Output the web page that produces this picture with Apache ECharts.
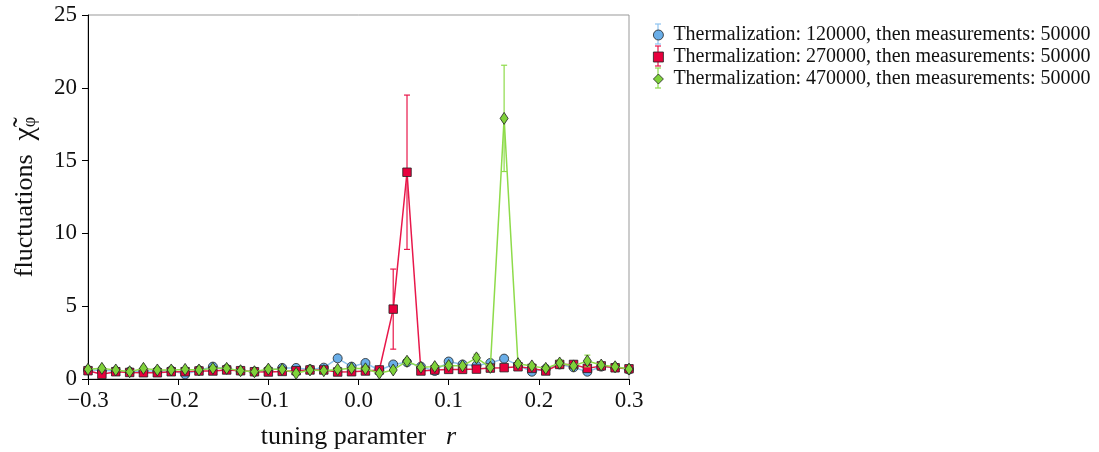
<!DOCTYPE html>
<html>
<head>
<meta charset="utf-8">
<script src="https://cdn.jsdelivr.net/npm/echarts@6/dist/echarts.min.js"></script>
<style>html,body{margin:0;padding:0;background:#fff;}#main{width:1099px;height:452px;}</style>
</head>
<body>
<div id="main"></div>
<script>
// tuning parameter r values
var rValues = [-0.3, -0.2846, -0.2692, -0.2538, -0.2385, -0.2231, -0.2077, -0.1923, -0.1769, -0.1615,
  -0.1462, -0.1308, -0.1154, -0.1, -0.0846, -0.0692, -0.0538, -0.0385, -0.0231, -0.0077,
  0.0077, 0.0231, 0.0385, 0.0538, 0.0692, 0.0846, 0.1, 0.1154, 0.1308, 0.1462,
  0.1615, 0.1769, 0.1923, 0.2077, 0.2231, 0.2385, 0.2538, 0.2692, 0.2846, 0.3];

var series120 = [0.62, 0.60, 0.55, 0.50, 0.55, 0.55, 0.58, 0.32, 0.60, 0.85,
  0.70, 0.57, 0.50, 0.60, 0.76, 0.76, 0.66, 0.78, 1.42, 0.85,
  1.10, 0.60, 1.00, 1.15, 0.85, 0.55, 1.20, 1.00, 0.92, 1.10,
  1.40, 0.95, 0.50, 0.70, 1.00, 0.80, 0.50, 0.85, 0.80, 0.65];
var err120 = [0.1, 0.1, 0.1, 0.1, 0.1, 0.1, 0.1, 0.1, 0.1, 0.15,
  0.1, 0.1, 0.1, 0.1, 0.1, 0.1, 0.1, 0.1, 0.2, 0.1,
  0.15, 0.1, 0.15, 0.15, 0.1, 0.1, 0.2, 0.15, 0.15, 0.15,
  0.2, 0.15, 0.1, 0.1, 0.15, 0.1, 0.1, 0.1, 0.1, 0.1];

var series270 = [0.57, 0.32, 0.50, 0.45, 0.43, 0.43, 0.50, 0.50, 0.55, 0.55,
  0.62, 0.57, 0.50, 0.48, 0.52, 0.57, 0.62, 0.62, 0.48, 0.50,
  0.55, 0.62, 4.80, 14.20, 0.55, 0.62, 0.66, 0.66, 0.68, 0.75,
  0.78, 0.84, 0.73, 0.55, 1.00, 1.00, 0.73, 0.90, 0.77, 0.70];
var err270 = [0.1, 0.1, 0.1, 0.1, 0.1, 0.1, 0.1, 0.1, 0.1, 0.1,
  0.1, 0.1, 0.1, 0.1, 0.1, 0.1, 0.1, 0.1, 0.1, 0.1,
  0.1, 0.1, 2.75, 5.3, 0.1, 0.1, 0.1, 0.1, 0.1, 0.1,
  0.1, 0.15, 0.1, 0.1, 0.15, 0.15, 0.1, 0.15, 0.1, 0.1];

var series470 = [0.67, 0.73, 0.62, 0.50, 0.73, 0.62, 0.62, 0.66, 0.62, 0.73,
  0.73, 0.57, 0.50, 0.68, 0.66, 0.39, 0.62, 0.57, 0.66, 0.73,
  0.70, 0.40, 0.62, 1.22, 0.80, 0.85, 0.93, 0.90, 1.45, 0.80,
  17.90, 1.05, 0.90, 0.73, 1.10, 0.90, 1.24, 0.96, 0.84, 0.68];
var err470 = [0.1, 0.15, 0.1, 0.1, 0.15, 0.1, 0.1, 0.1, 0.1, 0.1,
  0.1, 0.1, 0.1, 0.1, 0.1, 0.1, 0.1, 0.1, 0.1, 0.1,
  0.1, 0.1, 0.1, 0.2, 0.1, 0.15, 0.15, 0.15, 0.25, 0.15,
  3.65, 0.2, 0.15, 0.1, 0.2, 0.15, 0.4, 0.15, 0.1, 0.1];

var legendNames = ['Thermalization: 120000, then measurements: 50000',
  'Thermalization: 270000, then measurements: 50000',
  'Thermalization: 470000, then measurements: 50000'];
var xTicks = { min: -0.3, max: 0.3, interval: 0.1 };
var yTicks = { min: 0, max: 25, interval: 5 };

var lineColors = ['#8ec3f0', '#e8174a', '#8edb4a'];
var fillColors = ['#6aaee8', '#e8003d', '#7fd23a'];
var symbols = ['circle', 'rect', 'diamond'];
var symbolSizes = [9, 8.5, [8, 12]];
var allVals = [series120, series270, series470];
var allErr = [err120, err270, err470];
var serif = 'Liberation Serif';

function pairs(vals) { return rValues.map(function (x, i) { return [x, vals[i]]; }); }
function errData(vals, errs) { return rValues.map(function (x, i) { return [x, vals[i] - errs[i], vals[i] + errs[i]]; }); }

var seriesList = [];
for (var k = 0; k < 3; k++) {
  (function (k) {
    seriesList.push({
      type: 'custom',
      name: legendNames[k] + ' err',
      data: errData(allVals[k], allErr[k]),
      z: 2 + k * 2,
      silent: true,
      renderItem: function (params, api) {
        var lo = api.coord([api.value(0), api.value(1)]);
        var hi = api.coord([api.value(0), api.value(2)]);
        var c = 3;
        var st = { stroke: lineColors[k], lineWidth: 1.2 };
        return { type: 'group', children: [
          { type: 'line', shape: { x1: lo[0], y1: lo[1], x2: hi[0], y2: hi[1] }, style: st },
          { type: 'line', shape: { x1: lo[0] - c, y1: lo[1], x2: lo[0] + c, y2: lo[1] }, style: st },
          { type: 'line', shape: { x1: hi[0] - c, y1: hi[1], x2: hi[0] + c, y2: hi[1] }, style: st }
        ] };
      }
    });
    seriesList.push({
      type: 'line',
      name: legendNames[k],
      data: pairs(allVals[k]),
      z: 3 + k * 2,
      symbol: symbols[k],
      symbolSize: symbolSizes[k],
      showAllSymbol: true,
      lineStyle: { color: lineColors[k], width: 1.5 },
      itemStyle: { color: fillColors[k], borderColor: '#222', borderWidth: 0.8 },
      emphasis: { disabled: true },
      animation: false
    });
  })(k);
}

// decorative error-bar strokes behind the legend icons
var legendIconX = 658, legendRowY = [34, 56, 78];
var legendBars = [];
legendRowY.forEach(function (cy, i) {
  var st = { stroke: lineColors[i], lineWidth: 1.2 };
  legendBars.push({ type: 'line', silent: true, z: 0, shape: { x1: legendIconX, y1: cy - 10, x2: legendIconX, y2: cy + 10 }, style: st });
  legendBars.push({ type: 'line', silent: true, z: 0, shape: { x1: legendIconX - 3, y1: cy - 10, x2: legendIconX + 3, y2: cy - 10 }, style: st });
  legendBars.push({ type: 'line', silent: true, z: 0, shape: { x1: legendIconX - 3, y1: cy + 10, x2: legendIconX + 3, y2: cy + 10 }, style: st });
});

var chart = echarts.init(document.getElementById('main'), null, { renderer: 'canvas' });
chart.setOption({
  animation: false,
  backgroundColor: '#fff',
  grid: { left: 88, right: 470, top: 15, bottom: 73, containLabel: false, outerBoundsMode: 'none',
    show: true, borderColor: '#999', borderWidth: 1, backgroundColor: 'transparent' },
  graphic: legendBars,
  legend: {
    orient: 'vertical', left: 648, top: 20, itemGap: 2, itemWidth: 10, itemHeight: 10, z: 10,
    data: legendNames.map(function (n, i) {
      return { name: n, icon: symbols[i], itemStyle: { color: fillColors[i], borderColor: '#222', borderWidth: 0.8 } };
    }),
    textStyle: { fontFamily: serif, fontSize: 20, color: '#111', padding: [0, 0, 0, 5] }
  },
  xAxis: {
    type: 'value', min: xTicks.min, max: xTicks.max, interval: xTicks.interval,
    axisLine: { onZero: false, lineStyle: { color: '#000', width: 1 } },
    axisTick: { show: true, inside: false, length: 6, lineStyle: { color: '#000' } },
    splitLine: { show: false },
    axisLabel: { fontFamily: serif, fontSize: 23, color: '#111', margin: 10,
      formatter: function (v) { var s = Math.abs(v) < 1e-9 ? '0.0' : v.toFixed(1); return s.replace('-', '\u2212'); } },
    name: '{t|tuning paramter}{g| }{i|r}', nameLocation: 'middle', nameGap: 45,
    nameTextStyle: { rich: {
      t: { fontFamily: serif, fontSize: 26, color: '#111' },
      g: { fontFamily: serif, fontSize: 26, width: 20 },
      i: { fontFamily: serif, fontSize: 26, fontStyle: 'italic', color: '#111' } } }
  },
  yAxis: {
    type: 'value', min: yTicks.min, max: yTicks.max, interval: yTicks.interval,
    axisLine: { show: true, onZero: false, lineStyle: { color: '#000', width: 1 } },
    axisTick: { show: true, inside: false, length: 6, lineStyle: { color: '#000' } },
    splitLine: { show: false },
    axisLabel: { fontFamily: serif, fontSize: 23, color: '#111', margin: 11 },
    name: '{t|fluctuations}{g| }{c|\u03C7\u0303}{s|\u03C6}', nameLocation: 'middle', nameRotate: 90, nameGap: 48,
    nameTextStyle: { rich: {
      t: { fontFamily: serif, fontSize: 26, color: '#111' },
      g: { fontFamily: serif, fontSize: 26, width: 14 },
      c: { fontFamily: serif, fontSize: 30, color: '#111' },
      s: { fontFamily: serif, fontSize: 18, color: '#111', padding: [11, 0, 0, 0] }
    } }
  },
  series: seriesList
});
</script>
</body>
</html>
